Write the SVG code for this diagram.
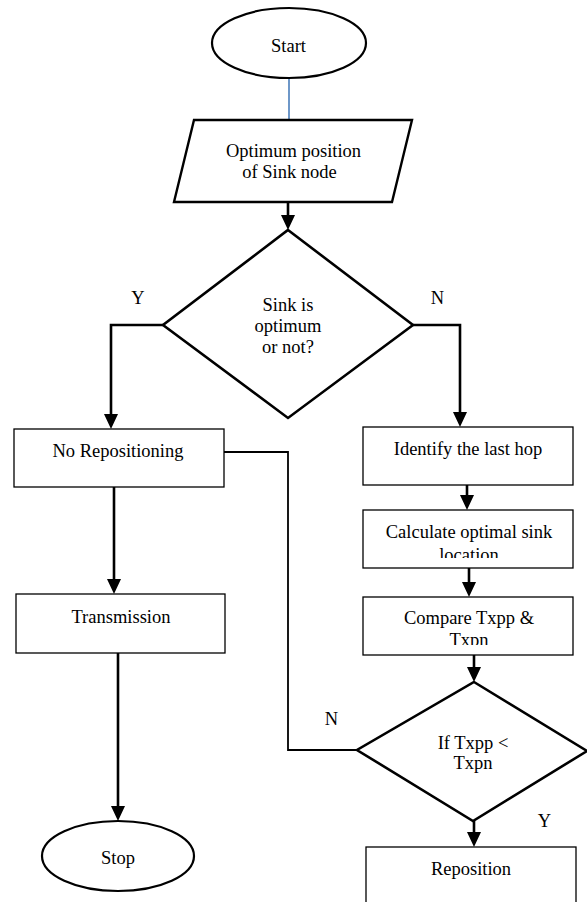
<svg xmlns="http://www.w3.org/2000/svg" width="587" height="902" viewBox="0 0 587 902">
<style>
text{font-family:"Liberation Serif","Times New Roman",serif;font-size:18.5px;fill:#000;text-anchor:middle}
.box{fill:#fff;stroke:#000;stroke-width:1.3}
.term{fill:#fff;stroke:#000;stroke-width:2.2}
.dec{fill:#fff;stroke:#000;stroke-width:2.6}
.io{fill:#fff;stroke:#000;stroke-width:2.4}
.arr{fill:none;stroke:#000;stroke-width:2.6;marker-end:url(#ah)}
.ln{fill:none;stroke:#000;stroke-width:1.8}
</style>
<defs>
<marker id="ah" markerUnits="userSpaceOnUse" markerWidth="15" markerHeight="14" refX="11" refY="7" orient="auto">
<path d="M0,0 L15,7 L0,14 z" fill="#000"/>
</marker>
<clipPath id="clipCalc"><rect x="363" y="510" width="210" height="48"/></clipPath>
<clipPath id="clipComp"><rect x="363" y="597" width="210" height="48"/></clipPath>
</defs>
<g id="connectors">
<line x1="289" y1="78" x2="289" y2="120" stroke="#4a7ebb" stroke-width="1.6"/>
<line class="arr" x1="288" y1="202" x2="288" y2="226"/>
<polyline class="arr" points="163,325 111,325 111,425"/>
<polyline class="arr" points="413,325 460,325 460,423"/>
<line class="arr" x1="114" y1="487" x2="114" y2="590"/>
<line class="arr" x1="118" y1="653" x2="118" y2="817"/>
<polyline class="ln" points="224,452 288,452 288,750 357,750"/>
<line class="arr" x1="467" y1="482" x2="467" y2="506"/>
<line class="arr" x1="469" y1="568" x2="469" y2="593"/>
<line class="arr" x1="474" y1="655" x2="474" y2="678"/>
<line class="arr" x1="474" y1="821" x2="474" y2="843"/>
</g>
<g id="start">
<ellipse class="term" cx="289" cy="43" rx="77" ry="35"/>
<text x="288.5" y="52">Start</text>
</g>
<g id="optimum-position">
<polygon class="io" points="194,120 412,120 392,202 174,202"/>
<text x="293.5" y="157">Optimum position</text>
<text x="289.5" y="178">of Sink node</text>
</g>
<g id="sink-optimum">
<polygon class="dec" points="288,230 413,325 288,418 163,325"/>
<text x="288" y="311">Sink is</text>
<text x="288" y="332">optimum</text>
<text x="288" y="353">or not?</text>
</g>
<g id="label-y1"><text x="138" y="304">Y</text></g>
<g id="label-n1"><text x="437.5" y="304">N</text></g>
<g id="no-repositioning">
<rect class="box" x="14" y="429" width="210" height="58"/>
<text x="118" y="457">No Repositioning</text>
</g>
<g id="transmission">
<rect class="box" x="16" y="594" width="209" height="59"/>
<text x="121" y="623">Transmission</text>
</g>
<g id="stop">
<ellipse class="term" cx="118" cy="856" rx="76" ry="35"/>
<text x="118" y="864">Stop</text>
</g>
<g id="identify">
<rect class="box" x="363" y="427" width="210" height="58"/>
<text x="468" y="455">Identify the last hop</text>
</g>
<g id="calculate">
<rect class="box" x="363" y="510" width="210" height="58"/>
<g clip-path="url(#clipCalc)">
<text x="469" y="538">Calculate optimal sink</text>
<text x="469" y="560.5">location</text>
</g>
</g>
<g id="compare">
<rect class="box" x="363" y="597" width="210" height="58"/>
<g clip-path="url(#clipComp)">
<text x="469" y="624">Compare Txpp &amp;</text>
<text x="469" y="646">Txpn</text>
</g>
</g>
<g id="if-txpp">
<polygon class="dec" points="474,682 587,751 473,821 357,750"/>
<text x="473" y="749">If Txpp &lt;</text>
<text x="473" y="769">Txpn</text>
</g>
<g id="label-n2"><text x="331.5" y="725">N</text></g>
<g id="label-y2"><text x="544.5" y="827">Y</text></g>
<g id="reposition">
<rect class="box" x="366" y="847" width="210" height="62"/>
<text x="471" y="875">Reposition</text>
</g>
</svg>
